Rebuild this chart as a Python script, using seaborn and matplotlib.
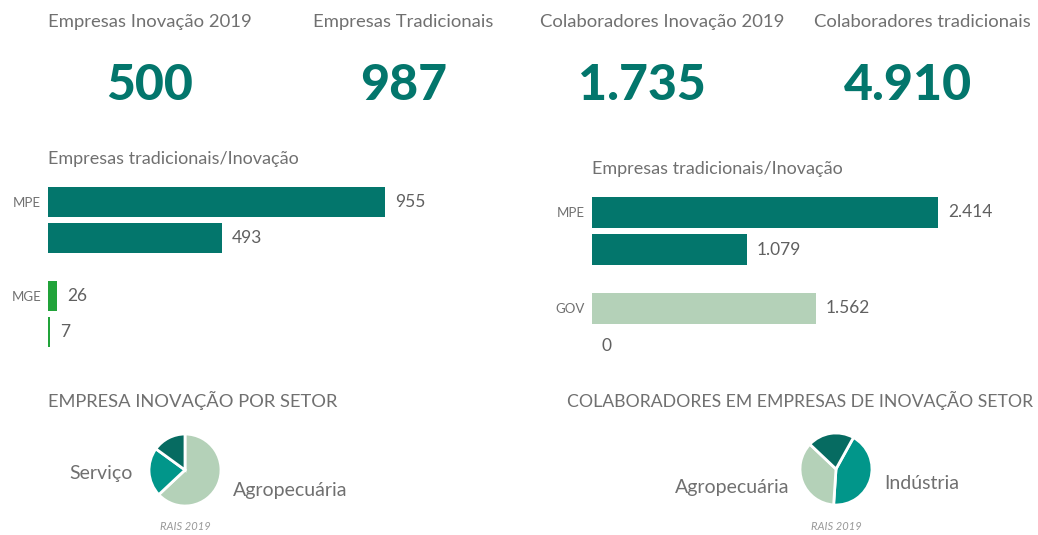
import pandas as pd
import matplotlib
matplotlib.use("Agg")
import matplotlib.pyplot as plt
import seaborn as sns

# KPI cards
kpi_titles = ["Empresas Inovação 2019", "Empresas Tradicionais",
              "Colaboradores Inovação 2019", "Colaboradores tradicionais"]
kpi_values = [500, 987, 1735, 4910]

# left bar chart
emp_porte = ["MPE", "MPE", "MGE", "MGE"]
emp_tipo = ["Tradicional", "Inovação", "Tradicional", "Inovação"]
emp_valor = [955, 493, 26, 7]

# right bar chart
col_porte = ["MPE", "MPE", "GOV", "GOV"]
col_tipo = ["Tradicional", "Inovação", "Tradicional", "Inovação"]
col_valor = [2414, 1079, 1562, 0]

# pies
pie1_labels = ["Agropecuária", "Serviço", ""]
pie1_values = [63, 22, 15]
pie2_labels = ["Indústria", "Agropecuária", ""]
pie2_values = [43, 36, 21]

W, H = 1038, 535
TEAL = "#03766c"
GRAY = "#707070"
porte_colors = {"MPE": TEAL, "MGE": "#21a33a", "GOV": "#b4d1b8"}
LIGHT, MID, DARK = "#b4d1b8", "#01968a", "#066b61"
pie1_colors = [LIGHT, MID, DARK]
pie2_colors = [MID, LIGHT, DARK]

sns.set_theme(style="white")
plt.rcParams["font.family"] = ["Lato", "DejaVu Sans"]


def fmt(v):
    return f"{v:,}".replace(",", ".")


def px_axes(fig, x0, y0, x1, y1):
    return fig.add_axes([x0 / W, 1 - y1 / H, (x1 - x0) / W, (y1 - y0) / H])


def bar_panel(fig, box, porte, tipo, valor, xmax, title):
    ax = px_axes(fig, *box)
    df = pd.DataFrame({"porte": porte, "tipo": tipo, "valor": valor})
    sns.barplot(data=df, y="porte", x="valor", hue="tipo", orient="h",
                width=0.78, gap=0.18, legend=False, linewidth=0, ax=ax)
    cats = list(dict.fromkeys(porte))
    for cont in ax.containers:
        for bar, c in zip(cont, cats):
            bar.set_facecolor(porte_colors[c])
            bar.set_linewidth(0)
        ax.bar_label(cont, labels=[fmt(int(round(b.get_width()))) for b in cont],
                     padding=7, fontsize=12.5, color="#606060")
    ax.set_xlim(0, xmax)
    ax.set_yticks([i - 0.195 for i in range(len(cats))])
    ax.set_yticklabels(cats, fontsize=9.5, color=GRAY)
    ax.tick_params(axis="y", length=0, pad=5)
    ax.set_xticks([])
    ax.set_xlabel("")
    ax.set_ylabel("")
    sns.despine(ax=ax, left=True, bottom=True)
    fig.text(box[0] / W, 1 - (box[1] - 14) / H, title, fontsize=13,
             color=GRAY, va="center", ha="left")
    return ax


def pie_panel(fig, cx, cy, values, labels, colors, start, ldist=1.45):
    ax = px_axes(fig, cx - 45, cy - 45, cx + 45, cy + 45)
    ax.pie(values, labels=labels, colors=colors, startangle=start,
           counterclock=False, labeldistance=ldist,
           wedgeprops=dict(edgecolor="white", linewidth=2),
           textprops=dict(fontsize=14, color=GRAY))
    fig.text(cx / W, 1 - 527 / H, "RAIS 2019", fontsize=8, style="italic",
             color="#999999", ha="center", va="center")
    return ax


fig = plt.figure(figsize=(W / 100, H / 100), dpi=100)

# KPI row
title_x = [150, 403, 662, 922]
value_x = [150, 404, 642, 908]
for t, v, tx, vx in zip(kpi_titles, kpi_values, title_x, value_x):
    fig.text(tx / W, 1 - 22 / H, t, fontsize=13.3, color=GRAY,
             ha="center", va="center")
    fig.text(vx / W, 1 - 86 / H, fmt(v), fontsize=36, fontweight="black",
             color=TEAL, ha="center", va="center")

bar_panel(fig, (48, 173, 460, 361), emp_porte, emp_tipo, emp_valor, 1167,
          "Empresas tradicionais/Inovação")
bar_panel(fig, (592, 183, 1012, 375), col_porte, col_tipo, col_valor, 2930,
          "Empresas tradicionais/Inovação")

fig.text(48 / W, 1 - 400 / H, "EMPRESA INOVAÇÃO POR SETOR", fontsize=13.2,
         color=GRAY, ha="left", va="center")
fig.text(1033 / W, 1 - 400 / H, "COLABORADORES EM EMPRESAS DE INOVAÇÃO SETOR",
         fontsize=12.7, color=GRAY, ha="right", va="center")

pie_panel(fig, 185, 470, pie1_values, pie1_labels, pie1_colors, 90)
pie_panel(fig, 836, 469, pie2_values, pie2_labels, pie2_colors, 61, 1.4)

fig.savefig("out.png", dpi=100, facecolor="white")
